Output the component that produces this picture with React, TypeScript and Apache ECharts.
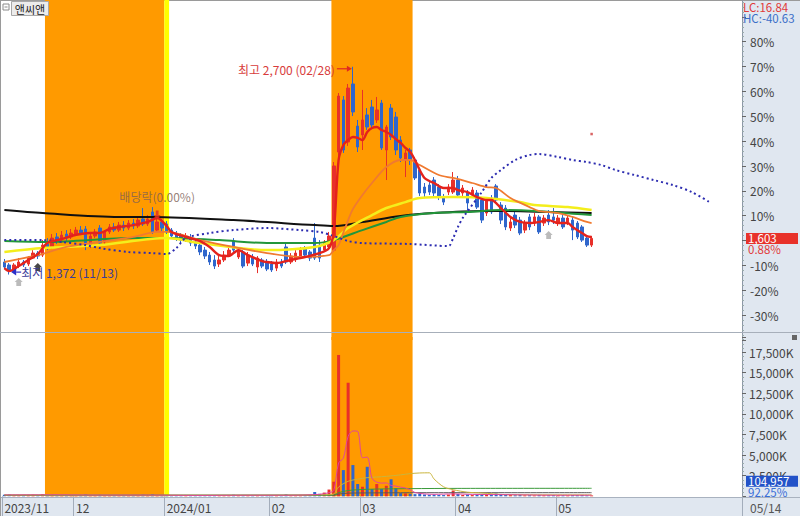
import React, { useEffect, useRef } from "react";
import * as echarts from "echarts";

// ---------- trading days (categories) ----------
const monthNames = ["2023/11", "2023/12", "2024/01", "2024/02", "2024/03", "2024/04", "2024/05"];
const monthTickLabels = ["2023/11", "12", "2024/01", "02", "03", "04", "05"];
const nov23 = [10, 13, 14, 15, 16, 17, 20, 21, 22, 23, 24, 27, 28, 29, 30];
const dec23 = [1, 4, 5, 6, 7, 8, 11, 12, 13, 14, 15, 18, 19, 20, 21, 22, 26, 27, 28];
const jan24 = [2, 3, 4, 5, 8, 9, 10, 11, 12, 15, 16, 17, 18, 19, 22, 23, 24, 25, 26, 29, 30, 31];
const feb24 = [1, 2, 5, 6, 7, 8, 13, 14, 15, 16, 19, 20, 21, 22, 23, 26, 27, 28, 29];
const mar24 = [4, 5, 6, 7, 8, 11, 12, 13, 14, 15, 18, 19, 20, 21, 22, 25, 26, 27, 28, 29];
const apr24 = [1, 2, 3, 4, 5, 8, 9, 11, 12, 15, 16, 17, 18, 19, 22, 23, 24, 25, 26, 29, 30];
const may24 = [2, 3, 7, 8, 9, 10, 13, 14];
const monthDays = [nov23, dec23, jan24, feb24, mar24, apr24, may24];
const futureSlots = 31;

// percent scale reference price
const basePrice = 1589;

// ---------- OHLC (KRW) ----------
const opens = [
  1452, 1433, 1401, 1426, 1452, 1439, 1477, 1509, 1496, 1567, 1548, 1612, 1592, 1631, 1612,
  1631, 1656, 1663, 1560, 1618, 1669, 1580, 1644, 1676, 1656, 1688, 1669, 1701, 1682, 1727, 1695, 1772, 1656, 1708,
  1695, 1656, 1631, 1618, 1599, 1612, 1580, 1560, 1528, 1496, 1465, 1439, 1465, 1496, 1586, 1484, 1516, 1445, 1484, 1420, 1465, 1452,
  1439, 1413, 1452, 1548, 1452, 1471, 1490, 1535, 1516, 1605, 1560, 1528, 1548, 1528, 2155, 2488, 2219, 2590, 2321,
  2264, 2392, 2443, 2360, 2468, 2168, 2436, 2379, 2232, 2104, 2168, 2104, 2040, 1931, 1944, 1976, 1931, 1867, 1899, 1899,
  1976, 1893, 1893, 1880, 1893, 1848, 1765, 1861, 1938, 1816, 1797, 1669, 1752, 1720, 1656, 1740, 1701, 1740, 1701, 1752, 1740,
  1701, 1733, 1708, 1720, 1701, 1676, 1605, 1560,
];
const closes = [
  1420, 1401, 1433, 1452, 1433, 1477, 1509, 1490, 1560, 1541, 1605, 1586, 1624, 1605, 1637,
  1656, 1637, 1554, 1618, 1644, 1573, 1644, 1676, 1656, 1688, 1669, 1701, 1682, 1720, 1695, 1727, 1644, 1708, 1669,
  1644, 1618, 1605, 1592, 1618, 1573, 1554, 1516, 1490, 1452, 1426, 1465, 1496, 1528, 1528, 1528, 1426, 1496, 1439, 1477, 1426, 1407,
  1401, 1452, 1426, 1452, 1490, 1509, 1528, 1496, 1477, 1477, 1477, 1580, 1618, 2066, 2513, 2168, 2564, 2411, 2187,
  2360, 2315, 2328, 2424, 2181, 2315, 2251, 2168, 2117, 2149, 2104, 1989, 1893, 1893, 1899, 1893, 1867, 1835, 1931, 1976,
  1880, 1925, 1829, 1912, 1803, 1720, 1848, 1772, 1848, 1720, 1676, 1708, 1688, 1637, 1701, 1676, 1740, 1644, 1733, 1708, 1720,
  1733, 1676, 1733, 1656, 1612, 1592, 1560, 1603,
];
const lows = [
  1407, 1372, 1388, 1413, 1420, 1426, 1471, 1471, 1484, 1528, 1535, 1567, 1573, 1586, 1599,
  1618, 1624, 1528, 1541, 1605, 1554, 1567, 1631, 1644, 1644, 1650, 1656, 1663, 1669, 1682, 1682, 1631, 1644, 1650,
  1631, 1599, 1586, 1573, 1580, 1554, 1535, 1496, 1471, 1433, 1407, 1420, 1452, 1484, 1516, 1471, 1413, 1426, 1426, 1381, 1413, 1394,
  1388, 1394, 1413, 1439, 1439, 1452, 1477, 1484, 1458, 1465, 1452, 1516, 1528, 1516, 2130, 2149, 2194, 2385, 2155,
  2168, 2296, 2309, 2341, 2168, 1976, 2232, 2136, 2091, 1995, 2072, 1976, 1874, 1867, 1880, 1874, 1848, 1816, 1880, 1887,
  1861, 1874, 1784, 1861, 1791, 1701, 1746, 1759, 1829, 1695, 1656, 1650, 1669, 1624, 1637, 1656, 1682, 1631, 1682, 1688, 1695,
  1682, 1663, 1688, 1592, 1599, 1580, 1548, 1548,
];
const highs = [
  1471, 1445, 1445, 1477, 1465, 1490, 1528, 1522, 1592, 1605, 1631, 1637, 1650, 1656, 1663,
  1676, 1682, 1682, 1631, 1663, 1688, 1656, 1695, 1701, 1708, 1714, 1720, 1727, 1740, 1797, 1752, 1803, 1733, 1727,
  1714, 1669, 1650, 1637, 1637, 1631, 1599, 1580, 1548, 1516, 1496, 1490, 1522, 1548, 1605, 1541, 1528, 1516, 1503, 1490, 1477, 1471,
  1458, 1471, 1471, 1567, 1509, 1528, 1548, 1554, 1528, 1701, 1592, 1592, 1644, 2091, 2532, 2513, 2590, 2700, 2360,
  2552, 2436, 2488, 2507, 2488, 2328, 2462, 2411, 2257, 2168, 2181, 2123, 2053, 1957, 1963, 1995, 1950, 1887, 1950, 2027,
  2002, 1944, 1912, 1931, 1912, 1867, 1867, 1880, 1950, 1835, 1816, 1740, 1772, 1740, 1720, 1759, 1765, 1752, 1752, 1784, 1797,
  1752, 1752, 1746, 1740, 1714, 1688, 1618, 1618,
];
// volume (shares)
const volumes = [
  180000, 210000, 150000, 130000, 120000, 160000, 190000, 140000, 260000, 170000, 220000, 150000, 140000, 120000, 160000,
  130000, 110000, 240000, 150000, 120000, 180000, 140000, 120000, 100000, 110000, 90000, 120000, 100000, 140000, 200000, 130000, 260000, 150000, 110000,
  130000, 120000, 100000, 110000, 90000, 120000, 110000, 140000, 130000, 160000, 150000, 120000, 110000, 100000, 180000, 120000, 150000, 110000, 100000, 130000, 110000, 120000,
  110000, 120000, 100000, 220000, 130000, 120000, 110000, 140000, 160000, 520000, 300000, 450000, 820000, 1770000, 17150000, 3180000, 13780000, 3790000, 1490000,
  1160000, 3580000, 880000, 1490000, 880000, 1280000, 2060000, 970000, 380000, 350000, 300000, 260000, 330000, 220000, 180000, 200000, 170000, 150000, 210000, 700000,
  280000, 160000, 220000, 150000, 180000, 240000, 200000, 160000, 330000, 220000, 180000, 150000, 130000, 160000, 120000, 140000, 110000, 150000, 120000, 130000, 140000,
  120000, 130000, 110000, 150000, 140000, 160000, 113775, 104957,
];

// ---------- indicator lines: [day index, KRW] ----------
const ma5Pts = [[0,1413],[1,1394],[3,1426],[5,1465],[7,1503],[9,1573],[12,1599],[14,1618],[16,1631],[18,1637],[20,1637],[22,1663],[24,1676],[27,1688],[30,1708],[32,1733],[34,1682],[35,1644],[38,1612],[41,1586],[43,1548],[45,1496],[47,1490],[48,1509],[49,1528],[51,1496],[54,1458],[55,1452],[57,1445],[60,1465],[62,1477],[63,1484],[66,1509],[68,1541],[69,1650],[70,2104],[71,2200],[72,2232],[73,2251],[74,2245],[75,2232],[76,2283],[77,2309],[78,2315],[79,2296],[80,2283],[81,2264],[82,2238],[83,2213],[84,2181],[85,2155],[86,2104],[87,2040],[88,1989],[89,1970],[90,1957],[92,1925],[94,1925],[95,1912],[97,1899],[99,1867],[101,1848],[102,1848],[104,1797],[106,1740],[108,1708],[110,1701],[112,1708],[114,1720],[116,1701],[118,1701],[119,1676],[121,1637],[122,1618],[123,1612]];
const ma20Pts = [[0,1452],[3,1471],[7,1496],[13,1548],[20,1580],[27,1612],[32,1644],[34,1644],[41,1592],[48,1548],[55,1509],[62,1484],[68,1496],[69,1528],[70,1560],[71,1640],[72,1720],[73,1790],[75,1880],[77,1957],[80,2059],[83,2104],[85,2104],[87,2072],[91,2008],[94,1989],[98,1957],[101,1931],[103,1925],[106,1861],[110,1803],[112,1778],[116,1765],[119,1740],[122,1708],[123,1701]];
const ma60Pts = [[0,1516],[8,1541],[20,1560],[34,1605],[41,1573],[55,1528],[65,1548],[69,1592],[72,1669],[77,1752],[80,1797],[84,1835],[87,1861],[94,1867],[101,1861],[108,1835],[111,1816],[118,1803],[123,1784]];
const ma120Pts = [[0,1586],[9,1580],[27,1605],[34,1605],[45,1592],[55,1573],[65,1573],[69,1592],[75,1656],[80,1708],[83,1740],[90,1765],[97,1772],[104,1784],[111,1778],[123,1752]];
const ma240Pts = [[0,1784],[8,1765],[24,1740],[31,1740],[48,1720],[65,1688],[69,1682],[75,1708],[83,1746],[90,1765],[100,1778],[104,1778],[114,1772],[123,1765]];
const spanPts = [[0,1592],[8,1592],[12,1580],[17,1560],[20,1541],[26,1516],[31,1509],[34,1503],[36,1541],[38,1605],[43,1637],[48,1656],[55,1669],[62,1656],[66,1644],[69,1618],[72,1586],[75,1573],[85,1567],[93,1554],[94,1605],[95,1676],[96,1733],[100,1899],[102,1989],[104,2040],[107,2104],[110,2136],[112,2142],[116,2123],[119,2104],[122,2091],[125,2072],[128,2040],[132,2008],[136,1976],[140,1944],[144,1899],[148,1829]];
const redDotPts = [[123, 2270]];
const graySignalPts = [[3, 1324], [114, 1624]];
const blackSignalPts = [[7, 1420]];
const exDivIdx = 32;
const exDivPrice = 1752;
const exDivText = "배당락(0.00%)";

// volume moving averages: [day index, K shares]
const volMa5Pts = [[0,170],[10,180],[20,150],[30,150],[40,110],[50,130],[60,130],[66,240],[68,440],[69,700],[70,4050],[71,4620],[72,7270],[73,7930],[74,7880],[75,4680],[76,4760],[77,2180],[78,1720],[79,1600],[80,1620],[81,1320],[82,1240],[83,1110],[84,1010],[85,790],[86,460],[88,290],[90,240],[94,290],[98,230],[105,200],[115,130],[123,130]];
const volMa20Pts = [[0,160],[20,150],[40,130],[60,140],[68,200],[69,280],[70,1130],[72,1820],[74,2080],[76,2260],[78,2340],[80,2420],[83,2600],[85,2750],[87,2830],[89,2850],[90,2100],[92,1150],[94,800],[97,500],[100,400],[105,200],[110,180],[123,170]];
const volMa60Pts = [[0,130],[68,140],[69,160],[70,440],[72,700],[74,800],[78,880],[85,930],[95,960],[123,970]];
const volMa120Pts = [[0,120],[69,130],[70,270],[72,380],[76,410],[90,440],[123,440]];

// highlighted periods
const bandFrom = ["2023/11/23", "2024/01/02", "2024/02/22"];
const bandTo = ["2023/12/28", "2024/01/02", "2024/03/18"];
const bandKind = [0, 1, 0];

// ---------- styles ----------
const UP = "#e8302a";
const DOWN = "#2f66cc";
const NARROW = "'Liberation Sans Narrow', 'Noto Sans CJK KR', sans-serif";
const AXIS_BG = "#e0e7f0";

// ---------- derived ----------
const categories: string[] = [];
const monthStartLabel = new Map<number, string>();
monthNames.forEach((mn, k) => {
  monthStartLabel.set(categories.length, monthTickLabels[k]);
  monthDays[k].forEach((d) => categories.push(`${mn}/${String(d).padStart(2, "0")}`));
});
const realCount = categories.length;
for (let k = 1; k <= futureSlots; k++) categories.push(`+${k}`);
const isMonthStart = (i: number) => monthStartLabel.has(i);

const pct = (p: number) => +((p / basePrice - 1) * 100).toFixed(3);
const fmt = (n: number) => n.toLocaleString("en-US");
const toPctPts = (pts: number[][]) => pts.map(([i, p]) => [i, pct(p)]);

function bandRender(params: any, api: any) {
  const s = api.value(0);
  const e = api.value(1);
  const w = api.size([1, 0])[0];
  const x0 = api.coord([s, 0])[0] - w / 2;
  const x1 = api.coord([e, 0])[0] + w / 2;
  const cs = params.coordSys;
  return {
    type: "rect",
    shape: { x: x0, y: cs.y, width: x1 - x0, height: cs.height },
    style: { fill: api.value(2) === 1 ? "#ffff00" : "#ff9a00" },
  };
}

const lineSeries = (name: string, pts: number[][], color: string, width: number, z: number, xi = 0, extra: any = {}) => ({
  name,
  type: "line",
  xAxisIndex: xi,
  yAxisIndex: xi,
  data: pts,
  showSymbol: false,
  symbol: "none",
  smooth: 0.3,
  silent: true,
  z,
  lineStyle: { color, width, ...extra },
});

export default function App() {
  const ref = useRef<HTMLDivElement>(null);

  useEffect(() => {
    const el = ref.current;
    if (!el) return;
    const chart = echarts.init(el, undefined, { renderer: "svg" });

    const bandData = bandFrom.map((f, k) => [categories.indexOf(f), categories.indexOf(bandTo[k]), bandKind[k]]);
    const candleData = opens.map((o, i) => [pct(o), pct(closes[i]), pct(lows[i]), pct(highs[i])]);
    const volData = volumes.map((v, i) => ({
      value: v / 1000,
      itemStyle: { color: closes[i] >= opens[i] ? UP : DOWN },
    }));

    const yAxisCommon = {
      position: "right",
      axisLine: { show: true, lineStyle: { color: "#8d97a7", width: 1 } },
      axisTick: { show: true, length: 4, lineStyle: { color: "#666" } },
      minorTick: { show: true, splitNumber: 5, length: 2, lineStyle: { color: "#9aa" } },
      splitLine: { show: false },
      minorSplitLine: { show: false },
    };

    const option: any = {
      animation: false,
      backgroundColor: "transparent",
      grid: [
        { left: 2, right: 58, top: -8, height: 348, containLabel: false, outerBoundsMode: "none" },
        { left: 2, right: 58, top: 337, height: 159.3, containLabel: false, outerBoundsMode: "none" },
      ],
      xAxis: [
        { type: "category", gridIndex: 0, data: categories, show: false, boundaryGap: true },
        {
          type: "category",
          gridIndex: 1,
          data: categories,
          boundaryGap: true,
          axisLine: { show: false },
          axisTick: { show: true, interval: (i: number) => isMonthStart(i), length: 20, lineStyle: { color: "#a3adbb" } },
          axisLabel: {
            interval: (i: number) => isMonthStart(i),
            formatter: (_v: string, i: number) => monthStartLabel.get(i) || "",
            align: "left",
            color: "#444",
            fontSize: 12,
            fontFamily: NARROW,
            margin: 5,
          },
          splitLine: { show: false },
        },
      ],
      yAxis: [
        {
          ...yAxisCommon,
          type: "value",
          gridIndex: 0,
          min: -40,
          max: 100,
          interval: 10,
          axisLabel: {
            // the 0% label sits under the last-price tag, so it is not shown
            formatter: (v: number) => (v > 85 || v < -35 || v === 0 ? "" : `${v}%`),
            color: "#444",
            fontSize: 12,
            fontFamily: NARROW,
            margin: 8,
          },
        },
        {
          ...yAxisCommon,
          type: "value",
          gridIndex: 1,
          min: 0,
          max: 19330,
          interval: 2500,
          axisLabel: {
            formatter: (v: number) => (v > 0 && v % 2500 === 0 ? `${fmt(v)}K` : ""),
            color: "#444",
            fontSize: 12,
            lineHeight: 11,
            fontFamily: NARROW,
            margin: 7,
          },
        },
      ],
      series: [
        { type: "custom", xAxisIndex: 0, yAxisIndex: 0, renderItem: bandRender, data: bandData, silent: true, z: 1, clip: false },
        { type: "custom", xAxisIndex: 1, yAxisIndex: 1, renderItem: bandRender, data: bandData, silent: true, z: 1, clip: false },
        {
          type: "candlestick",
          xAxisIndex: 0,
          yAxisIndex: 0,
          data: candleData,
          barWidth: 3,
          silent: true,
          z: 3,
          itemStyle: { color: UP, color0: DOWN, borderColor: UP, borderColor0: DOWN, borderWidth: 1 },
        },
        lineSeries("ma240", toPctPts(ma240Pts), "#111111", 2, 4),
        lineSeries("ma120", toPctPts(ma120Pts), "#22963a", 2, 4),
        lineSeries("ma60", toPctPts(ma60Pts), "#f4ee1c", 2.5, 4),
        lineSeries("ma20", toPctPts(ma20Pts), "#f07a30", 1.8, 5),
        lineSeries("ma5", toPctPts(ma5Pts), "#e4221c", 2.4, 6),
        lineSeries("span", toPctPts(spanPts), "#2c2cb0", 2, 5, 0, { type: [2, 3] }),
        {
          type: "scatter",
          xAxisIndex: 0,
          yAxisIndex: 0,
          data: toPctPts(redDotPts),
          symbol: "rect",
          symbolSize: 2.5,
          itemStyle: { color: "#d04040" },
          silent: true,
          z: 7,
        },
        {
          type: "scatter",
          xAxisIndex: 0,
          yAxisIndex: 0,
          data: toPctPts(graySignalPts),
          symbol: "path://M5,0 L10,5 L8,5 L8,10 L2,10 L2,5 L0,5 Z",
          symbolSize: [8, 8],
          itemStyle: { color: "#aaaaaa" },
          silent: true,
          z: 7,
        },
        {
          type: "scatter",
          xAxisIndex: 0,
          yAxisIndex: 0,
          data: toPctPts(blackSignalPts),
          symbol: "path://M5,0 L10,5 L8,5 L8,10 L2,10 L2,5 L0,5 Z",
          symbolSize: [8, 8],
          itemStyle: { color: "#1a1a1a" },
          silent: true,
          z: 7,
        },
        {
          type: "scatter",
          xAxisIndex: 0,
          yAxisIndex: 0,
          data: [[exDivIdx, pct(exDivPrice)]],
          symbol: "path://M3,0 L7,0 L7,5 L10,5 L5,10 L0,5 L3,5 Z",
          symbolSize: [7, 9],
          itemStyle: { color: "#e02a20" },
          label: {
            show: true,
            position: "top",
            distance: 8,
            formatter: exDivText,
            color: "#7b5e55",
            fontSize: 12,
            fontFamily: NARROW,
          },
          silent: true,
          z: 7,
        },
        {
          type: "bar",
          xAxisIndex: 1,
          yAxisIndex: 1,
          data: volData,
          barWidth: 3,
          silent: true,
          z: 3,
        },
        lineSeries("vol120", volMa120Pts, "#5a5a5a", 1, 4, 1, {}),
        lineSeries("vol60", volMa60Pts, "#3a9a3a", 1, 4, 1, {}),
        lineSeries("vol20", volMa20Pts, "#c9b43c", 1, 4, 1, {}),
        lineSeries("vol5", volMa5Pts, "#e0459e", 1, 5, 1, {}),
      ],
    };
    chart.setOption(option);

    // ---------- annotations positioned through the chart's own scales ----------
    let hiIdx = 0;
    let loIdx = 0;
    highs.forEach((h, i) => { if (h > highs[hiIdx]) hiIdx = i; });
    lows.forEach((l, i) => { if (l < lows[loIdx]) loIdx = i; });
    const hiPrice = highs[hiIdx];
    const loPrice = lows[loIdx];
    const last = closes[realCount - 1];
    const lastVol = volumes[realCount - 1];
    const prevVol = volumes[realCount - 2];
    const md = (i: number) => categories[i].slice(5);

    const hi = chart.convertToPixel({ gridIndex: 0 }, [hiIdx, pct(hiPrice)]) as number[];
    const lo = chart.convertToPixel({ gridIndex: 0 }, [loIdx, pct(loPrice)]) as number[];
    const lp = chart.convertToPixel({ gridIndex: 0 }, [realCount - 1, pct(last)]) as number[];

    const txt = (id: string, x: number, y: number, text: string, fill: string, extra: any = {}) => ({
      type: "text",
      id,
      x,
      y,
      z: 101,
      silent: true,
      style: { text, fill, fontSize: 12, fontFamily: NARROW, align: "left", verticalAlign: "middle", ...extra },
    });
    const small = { fontSize: 11.5, lineHeight: 10.5 };

    const hy = hi[1] + 2;
    const ly = lo[1] - 2.4;
    const tip = lo[0] + 2;

    chart.setOption({
      graphic: [
        { type: "line", id: "sep", z: 100, silent: true, shape: { x1: 0, y1: 332.5, x2: 800, y2: 332.5 }, style: { stroke: "#a7afba", lineWidth: 1 } },
        // top-left title
        { type: "rect", id: "ico", z: 100, silent: true, shape: { x: 3, y: 4, width: 6, height: 6 }, style: { fill: "#fff", stroke: "#8a8a8a", lineWidth: 1 } },
        { type: "line", id: "ico2", z: 101, silent: true, shape: { x1: 4.5, y1: 7, x2: 7.5, y2: 7 }, style: { stroke: "#8a8a8a", lineWidth: 1 } },
        { type: "rect", id: "tbox", z: 100, silent: true, shape: { x: 11.5, y: 1.5, width: 37, height: 14 }, style: { fill: "#ececec", stroke: "#a8a8a8", lineWidth: 1 } },
        txt("title", 30, 9, "앤씨앤", "#222", { align: "center", fontSize: 11, fontFamily: "'Noto Sans CJK KR', sans-serif" }),
        // right header
        txt("lc", 743, 7, `LC:${((last / loPrice - 1) * 100).toFixed(2)}`, "#e03a3a", small),
        txt("hc", 743, 18, `HC:${((last / hiPrice - 1) * 100).toFixed(2)}`, "#3a6ec8", small),
        // last price tag
        { type: "rect", id: "ptag", z: 100, silent: true, shape: { x: 746, y: lp[1] - 5.5, width: 52, height: 11 }, style: { fill: "#e8322a" } },
        txt("ptxt", 748, lp[1], fmt(last), "#ffffff", small),
        txt("ppct", 748, lp[1] + 11, `${((last / basePrice - 1) * 100).toFixed(2)}%`, "#e03a3a", small),
        // volume tag
        { type: "rect", id: "vtag", z: 100, silent: true, shape: { x: 746, y: 475.7, width: 52, height: 11 }, style: { fill: "#2252c8" } },
        txt("vtxt", 748, 481.2, fmt(lastVol), "#ffffff", small),
        txt("vpct", 748, 492.3, `${((lastVol / prevVol) * 100).toFixed(2)}%`, "#3a6fd8", small),
        { type: "rect", id: "vico", z: 100, silent: true, shape: { x: 792, y: 335, width: 5, height: 5 }, style: { fill: "#666" } },
        // last date in axis column
        txt("ldate", 750, 507.5, md(realCount - 1), "#555"),
        // high annotation
        txt("hitxt", hi[0] - 18, hy + 1, `최고 ${fmt(hiPrice)} (${md(hiIdx)})`, "#d83c3c", { align: "right" }),
        { type: "line", id: "hiln", z: 101, silent: true, shape: { x1: hi[0] - 16, y1: hy, x2: hi[0] - 5, y2: hy }, style: { stroke: "#e02a20", lineWidth: 1.2 } },
        { type: "polygon", id: "hiar", z: 101, silent: true, shape: { points: [[hi[0] - 1, hy], [hi[0] - 6, hy - 3], [hi[0] - 6, hy + 3]] }, style: { fill: "#e02a20" } },
        // low annotation
        { type: "polygon", id: "loar", z: 101, silent: true, shape: { points: [[tip, ly], [tip + 5, ly - 3.5], [tip + 5, ly + 3.5]] }, style: { fill: "#2a30c8" } },
        { type: "line", id: "loln", z: 101, silent: true, shape: { x1: tip + 5, y1: ly, x2: tip + 10, y2: ly }, style: { stroke: "#2a30c8", lineWidth: 1.2 } },
        txt("lotxt", tip + 10, ly, `최저 ${fmt(loPrice)} (${md(loIdx)})`, "#3b3b9a"),
      ],
    });

    return () => chart.dispose();
  }, []);

  return (
    <div style={{ position: "fixed", left: 0, top: 0, width: 800, height: 516, background: "#fff", overflow: "hidden" }}>
      <div style={{ position: "absolute", left: 742, top: 0, width: 58, height: 498, background: AXIS_BG }} />
      <div
        style={{
          position: "absolute",
          left: 0,
          top: 497,
          width: 800,
          height: 19,
          background: AXIS_BG,
          borderTop: "1px solid #a9b2bf",
          boxSizing: "border-box",
        }}
      />
      <div style={{ position: "absolute", left: 0, top: 0, width: 1, height: 516, background: "#9a9a9a" }} />
      <div style={{ position: "absolute", left: 0, top: 0, width: 800, height: 1, background: "#9a9a9a" }} />
      <div ref={ref} style={{ position: "absolute", left: 0, top: 0, width: 800, height: 516 }} />
    </div>
  );
}
